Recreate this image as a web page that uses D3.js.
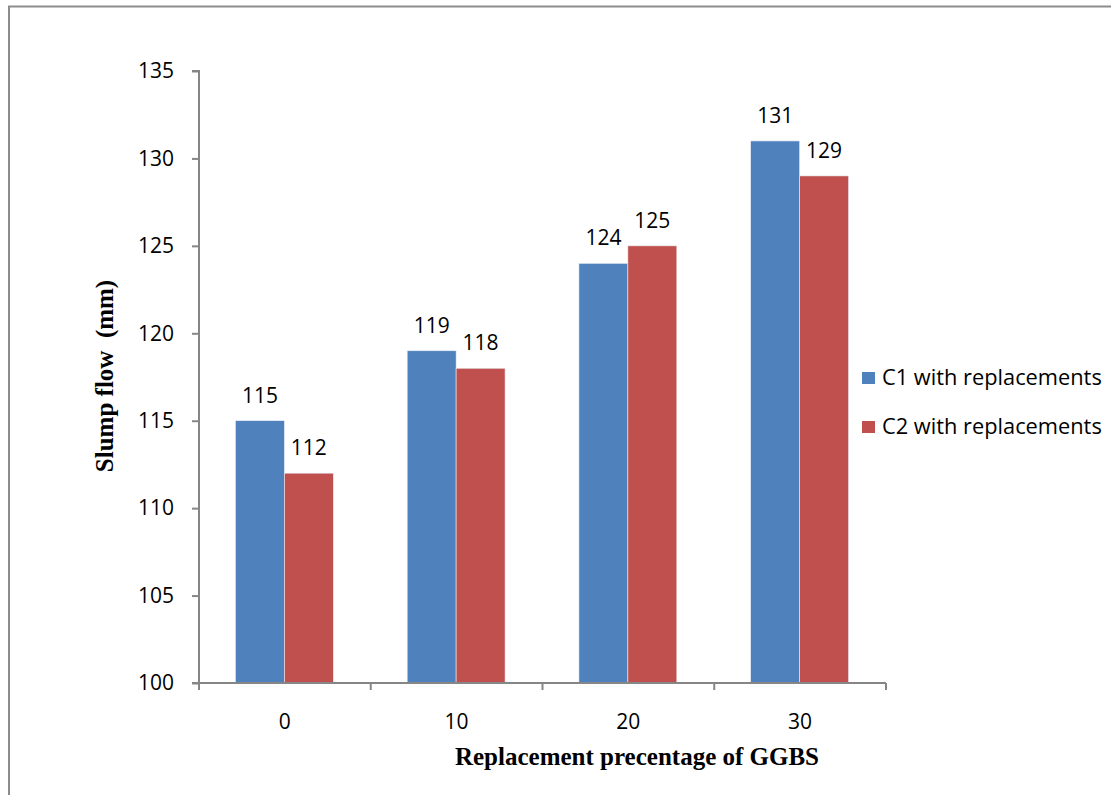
<!DOCTYPE html>
<html>
<head>
<meta charset="utf-8">
<script src="https://cdn.jsdelivr.net/npm/d3@7"></script>
<style>
  html, body { margin: 0; padding: 0; background: #fff; }
  svg { display: block; }
</style>
</head>
<body>
<svg id="chart" width="1111" height="795"></svg>
<script>
// Slump flow of mixes with GGBS replacement
const categories = ["0", "10", "20", "30"];
const seriesNames = ["C1 with replacements", "C2 with replacements"];
const c1Values = [115, 119, 124, 131];
const c2Values = [112, 118, 125, 129];
const yTicks = [100, 105, 110, 115, 120, 125, 130, 135];
const colors = ["#4F81BD", "#C0504D"];

const seriesValues = [c1Values, c2Values];
const rows = categories.map((c, i) => ({ cat: c, vals: seriesValues.map(s => s[i]) }));

const svg = d3.select("#chart");
const labelFont = "'Open Sans', 'Noto Sans', sans-serif";
const titleFont = "'Liberation Serif', 'Times New Roman', serif";
const labelSize = 21;

// outer frame
svg.append("path")
  .attr("d", "M9,800 L9,6.5 L1120,6.5")
  .attr("fill", "none")
  .attr("stroke", "#8c8c8c")
  .attr("stroke-width", 2);

const plot = { left: 199, right: 886, top: 71, bottom: 683 };

const x = d3.scaleBand()
  .domain(categories)
  .range([plot.left, plot.right])
  .paddingInner(0.43)
  .paddingOuter(0.215);

const xs = d3.scaleBand()
  .domain(d3.range(seriesNames.length))
  .range([0, x.bandwidth()]);

const y = d3.scaleLinear().domain([100, 135]).range([plot.bottom, plot.top]);

// bars
const groups = svg.append("g").selectAll("g")
  .data(rows)
  .join("g")
  .attr("transform", d => `translate(${x(d.cat) - 0.5},0)`);

groups.selectAll("rect")
  .data(d => d.vals.map((v, j) => ({ v, j })))
  .join("rect")
  .attr("x", d => xs(d.j))
  .attr("y", d => y(d.v))
  .attr("width", xs.bandwidth())
  .attr("height", d => y(100) - y(d.v))
  .attr("fill", d => colors[d.j])
  .attr("stroke", "#e8eef6")
  .attr("stroke-width", 0.6);

groups.selectAll("text")
  .data(d => d.vals.map((v, j) => ({ v, j })))
  .join("text")
  .attr("x", d => xs(d.j) + xs.bandwidth() / 2)
  .attr("y", d => y(d.v) - 18)
  .attr("text-anchor", "middle")
  .attr("font-family", labelFont)
  .attr("font-size", labelSize)
  .attr("fill", "#000")
  .text(d => d.v);

// y axis
const yAxis = svg.append("g")
  .attr("transform", `translate(${plot.left},0)`)
  .call(d3.axisLeft(y).tickValues(yTicks).tickSize(7).tickPadding(18).tickFormat(d3.format("d")));
yAxis.select(".domain").attr("stroke", "#868686").attr("stroke-width", 2).attr("d", `M-7,${plot.top}H0V${plot.bottom}`);
yAxis.selectAll(".tick line").attr("stroke", "#868686").attr("stroke-width", 2);
yAxis.selectAll(".tick text")
  .attr("font-family", labelFont).attr("font-size", labelSize).attr("fill", "#000");

// x axis: boundary ticks between categories
const boundaries = d3.range(categories.length + 1).map(i => plot.left + i * (plot.right - plot.left) / categories.length);
const xAxisG = svg.append("g");
xAxisG.append("line")
  .attr("x1", plot.left - 7).attr("x2", plot.right)
  .attr("y1", plot.bottom).attr("y2", plot.bottom)
  .attr("stroke", "#868686").attr("stroke-width", 2);
xAxisG.selectAll("line.tk")
  .data(boundaries)
  .join("line")
  .attr("class", "tk")
  .attr("x1", d => d).attr("x2", d => d)
  .attr("y1", plot.bottom).attr("y2", plot.bottom + 7)
  .attr("stroke", "#868686").attr("stroke-width", 2);
xAxisG.selectAll("text")
  .data(categories)
  .join("text")
  .attr("x", d => x(d) + x.bandwidth() / 2)
  .attr("y", plot.bottom + 46)
  .attr("text-anchor", "middle")
  .attr("font-family", labelFont)
  .attr("font-size", labelSize)
  .attr("fill", "#000")
  .text(d => d);

// axis titles
svg.append("text")
  .attr("x", 637).attr("y", 765)
  .attr("text-anchor", "middle")
  .attr("font-family", titleFont)
  .attr("font-weight", "bold")
  .attr("font-size", 25)
  .text("Replacement precentage of GGBS");

svg.append("text")
  .attr("transform", "translate(113,376) rotate(-90)")
  .attr("text-anchor", "middle")
  .attr("font-family", titleFont)
  .attr("font-weight", "bold")
  .attr("font-size", 25)
  .attr("xml:space", "preserve")
  .text("Slump flow  (mm)");

// legend
const legend = svg.append("g").selectAll("g")
  .data(seriesNames)
  .join("g")
  .attr("transform", (d, i) => `translate(862,${372 + i * 49})`);
legend.append("rect")
  .attr("width", 13).attr("height", 12)
  .attr("fill", (d, i) => colors[i]);
legend.append("text")
  .attr("x", 20).attr("y", 13)
  .attr("font-family", labelFont)
  .attr("font-size", 21.8)
  .attr("fill", "#000")
  .text(d => d);
</script>
</body>
</html>
